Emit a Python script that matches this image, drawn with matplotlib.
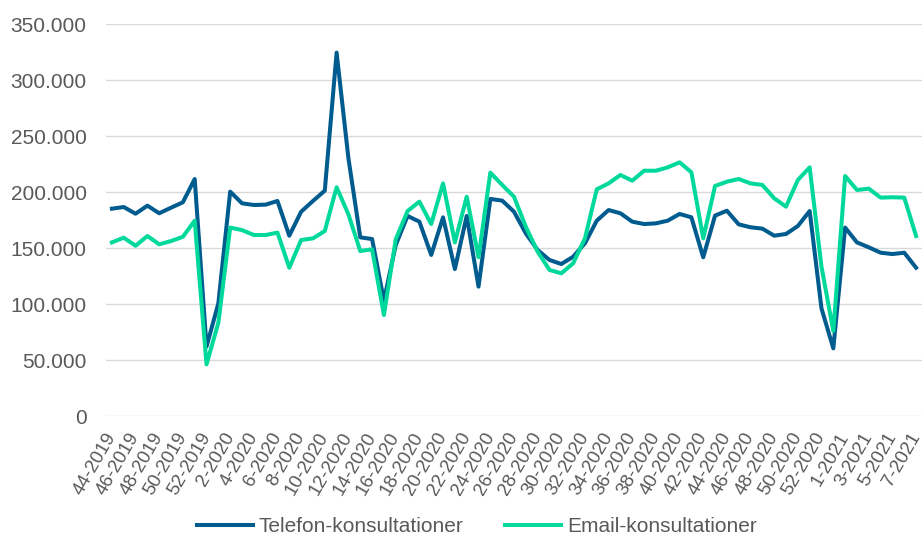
import matplotlib
matplotlib.use("Agg")
import matplotlib.pyplot as plt
from matplotlib.ticker import FuncFormatter, MultipleLocator

plt.rcParams['font.family'] = ['Liberation Sans', 'DejaVu Sans']

weeks = ([f"{w}-2019" for w in range(44, 53)]
         + [f"{w}-2020" for w in range(1, 54)]
         + [f"{w}-2021" for w in range(1, 8)])

telefon = [185.1, 186.6, 180.6, 187.8, 181.0, 186.0, 190.8, 211.6, 61.9, 100.6,
           200.3, 189.9, 188.4, 188.7, 192.0, 161.0, 182.4, 192.0, 201.2, 324.4,
           230.0, 159.5, 158.0, 103.0, 152.7, 178.6, 173.5, 143.8, 177.4, 131.2,
           178.6, 115.5, 193.8, 192.3, 182.4, 163.0, 148.2, 139.3, 135.7, 142.2,
           154.2, 174.4, 183.9, 181.0, 173.5, 171.4, 172.0, 174.4, 180.4, 177.4,
           141.7, 178.9, 183.3, 171.1, 168.5, 167.3, 161.0, 162.5, 169.6, 183.0,
           96.1, 60.4, 168.2, 155.0, 150.6, 145.8, 144.6, 145.8, 132.4]

email = [155.0, 159.2, 152.0, 160.7, 153.3, 156.2, 160.0, 174.4, 46.1, 83.3,
         168.2, 166.0, 161.6, 161.6, 163.7, 132.4, 157.1, 158.6, 165.2, 204.2,
         180.0, 147.3, 148.8, 90.2, 157.7, 183.0, 191.4, 171.4, 207.7, 155.0,
         195.8, 141.7, 217.3, 206.3, 195.8, 169.0, 146.7, 130.4, 127.4, 136.3,
         158.6, 202.4, 207.7, 215.2, 210.1, 219.0, 219.0, 222.0, 226.5, 217.6,
         158.6, 205.4, 209.2, 211.6, 207.7, 206.3, 194.4, 186.9, 210.7, 222.0,
         133.3, 75.9, 214.3, 201.8, 203.0, 195.0, 195.3, 195.0, 160.7]

telefon = [v * 1000 for v in telefon]
email = [v * 1000 for v in email]

series_names = ["Telefon-konsultationer", "Email-konsultationer"]
colors = ["#005B8E", "#00D99B"]

fig = plt.figure(figsize=(9.22, 5.45), dpi=100)
ax = fig.add_axes([106/922, 1-416/545, 1-106/922, (416-24)/545])

x = list(range(len(weeks)))
ax.plot(x, telefon, color=colors[0], lw=2.9, label=series_names[0], solid_joinstyle='round')
ax.plot(x, email, color=colors[1], lw=2.9, label=series_names[1], solid_joinstyle='round')

ax.set_xlim(-0.5, len(weeks) - 0.5)
ax.set_ylim(0, 350000)
ax.yaxis.set_major_locator(MultipleLocator(50000))
ax.yaxis.set_major_formatter(FuncFormatter(lambda v, p: f"{int(v):,}".replace(",", ".")))
ax.grid(axis='y', color='#D9D9D9', lw=1.0)
ax.set_axisbelow(True)
for s in ax.spines.values():
    s.set_visible(False)

ax.set_xticks(x[::2])
ax.set_xticklabels(weeks[::2], rotation=60, ha='right', va='center', rotation_mode='anchor')
ax.tick_params(axis='x', length=0, pad=13, labelsize=13.5, labelcolor='#595959')
ax.tick_params(axis='y', length=0, pad=14, labelsize=15, labelcolor='#595959')

fig.legend(loc='center', bbox_to_anchor=(477/922, 1-527/545), ncol=2, frameon=False,
           fontsize=15, handlelength=2.65, handletextpad=0.3, columnspacing=2.0,
           labelcolor='#595959')

fig.savefig("out.png", dpi=100)
